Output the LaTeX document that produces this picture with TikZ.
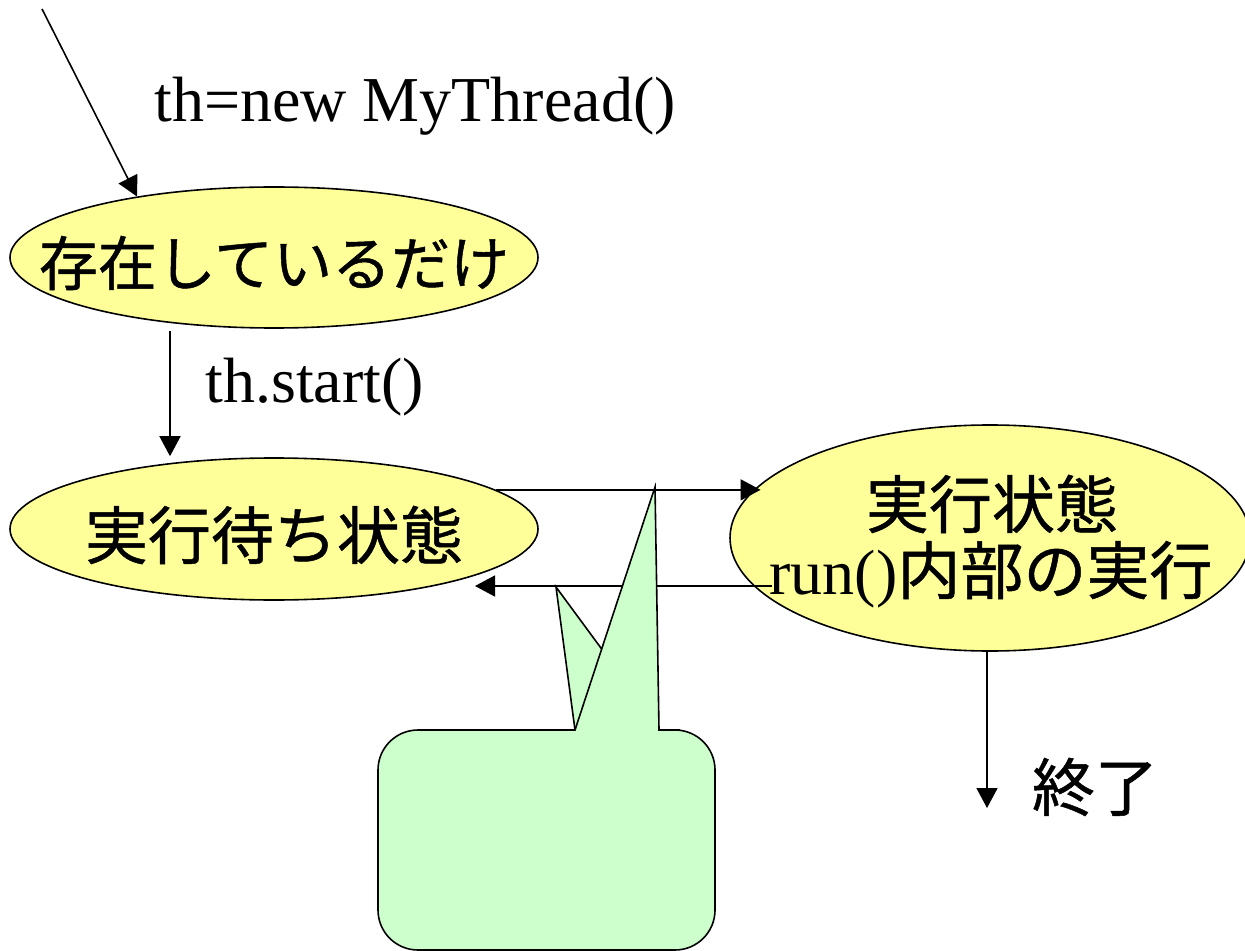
\documentclass[tikz,border=0pt]{standalone}
\usepackage{fontspec}
\setmainfont{Liberation Serif}
\newfontfamily\jp[FakeBold=0.8]{Noto Sans CJK JP}
\usetikzlibrary{shapes.geometric,arrows.meta,calc}
\definecolor{stateyellow}{HTML}{FFFF99}
\definecolor{calloutgreen}{HTML}{CCFFCC}
\begin{document}
\begin{tikzpicture}[x=0.5pt,y=-0.5pt,
  state/.style={ellipse,draw,line width=0.8pt,fill=stateyellow,inner sep=0pt},
  arr/.style={line width=0.8pt,-{Triangle[length=10pt,width=10.5pt]}},
  lbl/.style={inner sep=0pt},
  jpbig/.style={lbl,font={\jp\fontsize{31.5pt}{34pt}\selectfont}},
  rmbig/.style={lbl,font={\fontsize{32pt}{34pt}\selectfont}},
  bubble/.style={draw,line width=0.8pt,fill=calloutgreen,line join=miter}]
\useasboundingbox (0,0) rectangle (1245,951);
% states
\node[state,minimum width=264pt,minimum height=70.5pt] (exist) at (274,257.5) {};
\node[state,minimum width=264pt,minimum height=71pt] (wait) at (274,529) {};
\node[state,minimum width=260pt,minimum height=113pt] (run) at (990,538) {};
% state texts
\node[lbl,font={\jp\fontsize{29.5pt}{34pt}\selectfont}] (existT) at (274,263) {存在しているだけ};
\node[jpbig] (waitT) at (274,535) {実行待ち状態};
\node[jpbig,anchor=base] (runT1) at (992,528) {実行状態};
\node[rmbig,anchor=base] (runT2) at (991,594) {run(){\jp\fontsize{31.5pt}{34pt}\selectfont 内部の実行}};
% labels
\node[rmbig,anchor=base west] (newT) at (154,122) {th=new MyThread()};
\node[rmbig,anchor=base west] (startT) at (205,402) {th.start()};
\node[jpbig] (endT) at (1095,787) {終了};
% return arrow (lies under the callout)
\draw[arr] ($(run.center)+(-218,48)$) -- ($(wait.center)+(201,57)$);
% callouts
\draw[bubble] (556,587) -- (575,730) -- (623,678) -- cycle;
\draw[bubble] (378,840) [rounded corners=20pt] -- (378,730) -- (500,730)
  [sharp corners] -- (575,730) -- (655,487) -- (659,730) -- (680,730)
  [rounded corners=20pt] -- (715,730) -- (715,950) -- (378,950) -- cycle;
% other connectors
\coordinate (src) at (42,9);
\coordinate (fin) at (987,808);
\draw[arr] (src) -- (exist.156);
\draw[arr] ([xshift=-52pt,yshift=-1pt]exist.south) -- ([xshift=-52pt,yshift=0.5pt]wait.north);
\draw[arr] (wait.10) -- ($(wait.10 -| run.168)+(5,0)$);
\draw[arr] ([xshift=-1.5pt]run.south) -- (fin);
\end{tikzpicture}
\end{document}
